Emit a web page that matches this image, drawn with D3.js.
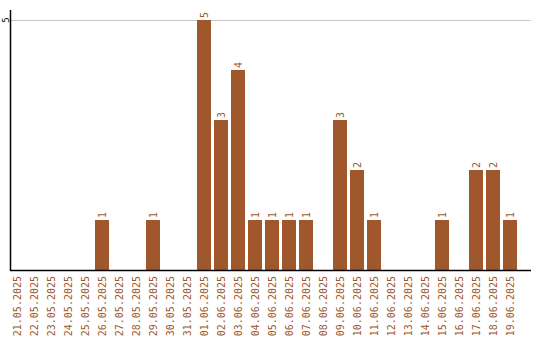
<!DOCTYPE html>
<html>
<head>
<meta charset="utf-8">
<script src="https://cdn.jsdelivr.net/npm/d3@7"></script>
<style>
  body { margin: 0; background: #fff; }
</style>
</head>
<body>
<div id="chartContainer"></div>
<script>
var dates = ['21.05.2025', '22.05.2025', '23.05.2025', '24.05.2025', '25.05.2025', '26.05.2025',
    '27.05.2025', '28.05.2025', '29.05.2025', '30.05.2025', '31.05.2025', '01.06.2025',
    '02.06.2025', '03.06.2025', '04.06.2025', '05.06.2025', '06.06.2025', '07.06.2025',
    '08.06.2025', '09.06.2025', '10.06.2025', '11.06.2025', '12.06.2025', '13.06.2025',
    '14.06.2025', '15.06.2025', '16.06.2025', '17.06.2025', '18.06.2025', '19.06.2025'];
var counts = [0, 0, 0, 0, 0, 1, 0, 0, 1, 0, 0, 5, 3, 4, 1, 1, 1, 1, 0, 3, 2, 1, 0, 0, 0, 1, 0, 2, 2, 1];
var yTicks = [5];

var width = 540, height = 340;
var barColor = '#a0572b';
var fontStyle = 'font-family: "DejaVu Sans Mono", monospace; font-size: 10px;';

var svg = d3.select('#chartContainer')
    .append('svg')
    .attr('width', width)
    .attr('height', height);

var x = d3.scaleBand()
    .domain(dates)
    .range([10, 517])
    .paddingInner(3 / 17)
    .paddingOuter(0);

var y = d3.scaleLinear()
    .domain([0, 5])
    .range([270, 20]);

// grid lines
svg.selectAll('.grid')
    .data(yTicks)
    .enter().append('line')
    .attr('x1', 10).attr('x2', 531)
    .attr('y1', function (d) { return y(d) + 0.5 })
    .attr('y2', function (d) { return y(d) + 0.5 })
    .attr('stroke', '#c8c8c8')
    .attr('stroke-width', 1);

// y tick labels
svg.selectAll('.ylab')
    .data(yTicks)
    .enter().append('text')
    .attr('transform', function (d) { return `translate(8.5, ${y(d)}) rotate(-90)` })
    .attr('text-anchor', 'middle')
    .attr('style', 'font-family: "DejaVu Sans Mono", monospace; font-size: 9px;')
    .attr('fill', '#000')
    .text(function (d) { return d });

// bars
svg.selectAll('.bar')
    .data(counts)
    .enter().append('rect')
    .attr('x', function (d, i) { return x(dates[i]) })
    .attr('width', x.bandwidth())
    .attr('y', function (d) { return y(d) })
    .attr('height', function (d) { return y(0) - y(d) })
    .attr('fill', barColor);

// value labels
var labelled = counts
    .map(function (c, i) { return { date: dates[i], v: c } })
    .filter(function (d) { return d.v > 0 });

svg.selectAll('.vlabel')
    .data(labelled)
    .enter().append('text')
    .attr('transform', function (d) {
        return `translate(${x(d.date) + x.bandwidth() / 2 + 4}, ${y(d.v) - 2}) rotate(-90)`;
    })
    .attr('text-anchor', 'start')
    .attr('style', fontStyle)
    .attr('fill', barColor)
    .text(function (d) { return d.v });

// x labels
svg.selectAll('.xlab')
    .data(dates)
    .enter().append('text')
    .attr('transform', function (d) {
        return `translate(${x(d) + x.bandwidth() / 2 + 4}, 276) rotate(-90)`;
    })
    .attr('text-anchor', 'end')
    .attr('style', fontStyle)
    .attr('fill', barColor)
    .text(function (d) { return d });

// axes lines
svg.append('line')
    .attr('x1', 10.5).attr('x2', 10.5)
    .attr('y1', 10).attr('y2', 271)
    .attr('stroke', '#000').attr('stroke-width', 1.5);
svg.append('line')
    .attr('x1', 10).attr('x2', 531)
    .attr('y1', 270.5).attr('y2', 270.5)
    .attr('stroke', '#000').attr('stroke-width', 1.5);
</script>
</body>
</html>
